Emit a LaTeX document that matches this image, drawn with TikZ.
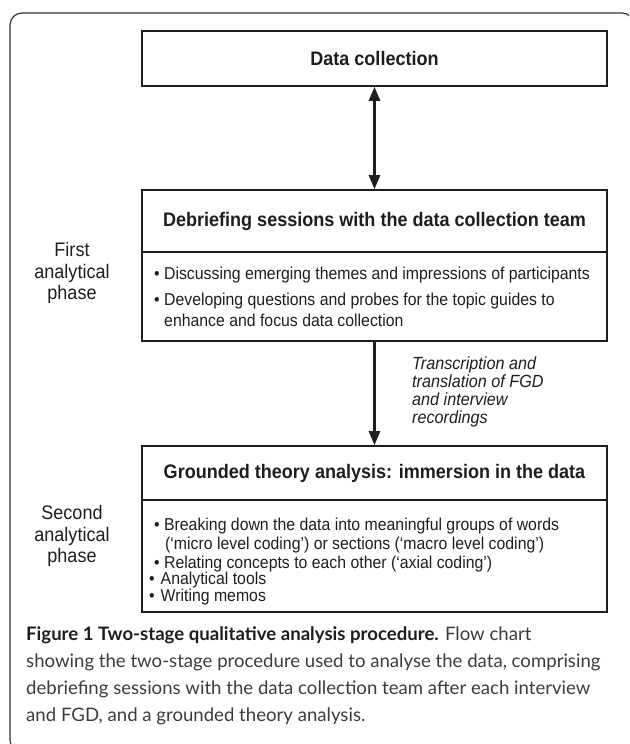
\documentclass[tikz,border=0pt]{standalone}
\usepackage{fontspec}
\setmainfont[FakeStretch=0.92]{Liberation Sans}
\newfontfamily\capfont{Lato}
\usetikzlibrary{arrows.meta}
\definecolor{ink}{HTML}{1E1E1E}
\definecolor{capgray}{HTML}{3C3C3C}
\tikzset{
  box/.style={draw=ink, line width=1.6pt, minimum width=465pt, inner sep=0pt},
  headbox/.style={box, font=\fontsize{19.6}{22}\selectfont\bfseries, text=ink},
  bodybox/.style={box},
  btxt/.style={anchor=base west, inner sep=0pt, font=\fontsize{17.2}{19}\selectfont, text=ink},
  sidelabel/.style={align=center, inner sep=0pt, font=\fontsize{19.6}{21.5}\selectfont, text=ink},
  arr/.style={draw=ink, line width=2.6pt, -{Triangle[width=11pt,length=14pt]}},
  dblarr/.style={draw=ink, line width=2.6pt, {Triangle[width=11pt,length=14pt]}-{Triangle[width=11pt,length=14pt]}},
  frame/.style={draw=black!80, line width=1.2pt, rounded corners=12pt}
}
\begin{document}
\begin{tikzpicture}[x=1pt,y=-1pt]
\useasboundingbox (0,0) rectangle (629,744);
\begin{scope}
\clip (0,0) rectangle (629,744);
\draw[frame] (10,13) rectangle (634,752);
\end{scope}

% boxes
\node[headbox, minimum height=55pt] (data) at (374.5,58.5) {Data collection};
\node[headbox, minimum height=62pt] (debhead) at (374.5,221) {Debriefing sessions with the data collection team};
\node[bodybox, minimum height=89pt] (debbody) at (374.5,296.5) {};
\node[headbox, minimum height=54pt] (gthead) at (374.5,473) {Grounded theory analysis: immersion in the data};
\node[bodybox, minimum height=112pt] (gtbody) at (374.5,556) {};

% connectors
\draw[dblarr] (data.south) -- (debhead.north);
\draw[arr] (debbody.south) -- (gthead.north);

% bullets, first box
\node[btxt] (d1) at (154,279) {• Discussing emerging themes and impressions of participants};
\node[btxt] (d2) at (154,305) {• Developing questions and probes for the topic guides to};
\node[btxt] (d3) at (164,326) {enhance and focus data collection};

% bullets, second box
\node[btxt] (g1) at (154,530) {• Breaking down the data into meaningful groups of words};
\node[btxt] (g2) at (165,549) {(‘micro level coding’) or sections (‘macro level coding’)};
\node[btxt] (g3) at (154,568) {• Relating concepts to each other (‘axial coding’)};
\node[btxt] (g4) at (149,584.5) {•\hspace{6pt}Analytical tools};
\node[btxt] (g5) at (149,601.5) {•\hspace{6pt}Writing memos};

% side labels
\node[sidelabel] (ph1) at (72,273) {First\\analytical\\phase};
\node[sidelabel] (ph2) at (72,536) {Second\\analytical\\phase};

% arrow label
\node[anchor=west, align=left, inner sep=0pt, font=\fontsize{17.6}{18}\selectfont\itshape, text=ink] (lbl) at (412,392)
  {Transcription and\\translation of FGD\\and interview\\recordings};

% caption
\node[anchor=north west, align=left, inner sep=0pt, font=\capfont\fontsize{18.6}{27}\selectfont, text=capgray] (cap) at (26,626)
  {{\bfseries\color{ink}Figure 1 Two-stage qualitative analysis procedure.} Flow chart\\
   showing the two-stage procedure used to analyse the data, comprising\\
   debriefing sessions with the data collection team after each interview\\
   and FGD, and a grounded theory analysis.};
\end{tikzpicture}
\end{document}
